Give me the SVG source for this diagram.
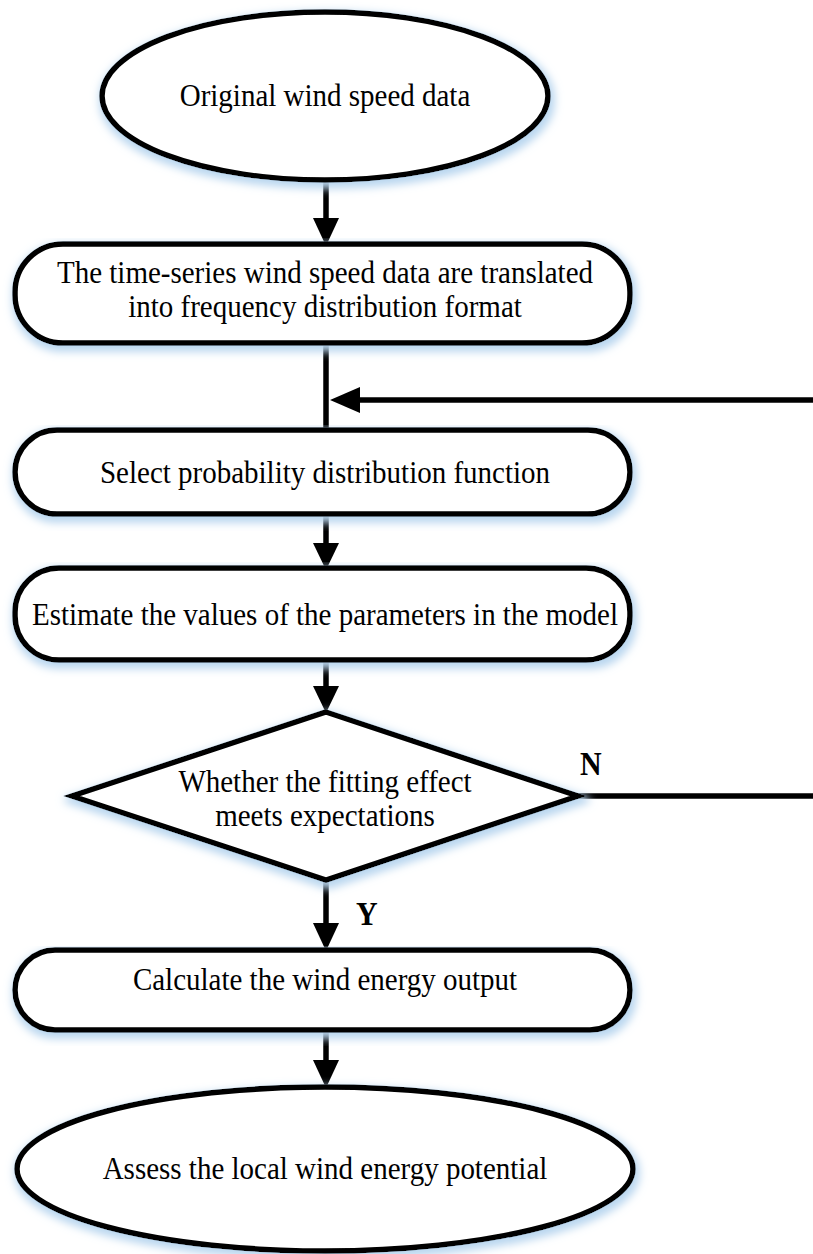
<svg xmlns="http://www.w3.org/2000/svg" width="813" height="1254" viewBox="0 0 813 1254">
<defs>
<style>
.shape{fill:#fff;stroke:#000;stroke-width:5.5;filter:url(#glow)}
.t{font-family:"Liberation Serif","Times New Roman",serif;font-size:29px;fill:#000;text-anchor:middle}
.lbl{font-family:"Liberation Serif","Times New Roman",serif;font-size:30px;font-weight:bold;fill:#000}
.c{stroke:#000;stroke-width:5.5;fill:none}
</style>
<filter id="glow" x="-10%" y="-10%" width="120%" height="130%">
<feMorphology in="SourceAlpha" operator="dilate" radius="2" result="d"/>
<feGaussianBlur in="d" stdDeviation="4" result="b"/>
<feOffset in="b" dx="2" dy="4" result="o"/>
<feFlood flood-color="#b9d6ef"/>
<feComposite in2="o" operator="in" result="s"/>
<feMerge><feMergeNode in="s"/><feMergeNode in="SourceGraphic"/></feMerge>
</filter>
</defs>
<g id="connectors">
<path class="c" d="M326,181 V220"/><path d="M313,218 L339,218 L326,246 Z"/>
<path class="c" d="M326,343 V430"/>
<path class="c" d="M813,400 H355"/><path d="M360,387 L360,413 L330,400 Z"/>
<path class="c" d="M326,514 V545"/><path d="M313,543 L339,543 L326,570 Z"/>
<path class="c" d="M326,660 V688"/><path d="M313,686 L339,686 L326,713 Z"/>
<path class="c" d="M578,796 H813"/>
<path class="c" d="M326,880 V925"/><path d="M313,923 L339,923 L326,951 Z"/>
<path class="c" d="M326,1030 V1062"/><path d="M313,1060 L339,1060 L326,1088 Z"/>
<text class="lbl" transform="translate(580,775) scale(1,1.1)">N</text>
<text class="lbl" transform="translate(356,925) scale(1,1.1)">Y</text>
</g>
<g id="n1"><ellipse class="shape" cx="325" cy="96" rx="223" ry="84"/><text class="t" transform="translate(325,106) scale(1,1.1)">Original wind speed data</text></g>
<g id="n2"><rect class="shape" x="15" y="244" width="615" height="99" rx="48"/><text class="t" transform="translate(325,283) scale(1,1.1)">The time-series wind speed data are translated</text><text class="t" transform="translate(325,317) scale(1,1.1)">into frequency distribution format</text></g>
<g id="n3"><rect class="shape" x="15" y="430" width="615" height="84" rx="42"/><text class="t" transform="translate(325,483) scale(1,1.1)">Select probability distribution function</text></g>
<g id="n4"><rect class="shape" x="15" y="568" width="615" height="92" rx="44"/><text class="t" transform="translate(325,625) scale(1,1.1)">Estimate the values of the parameters in the model</text></g>
<g id="n5"><polygon class="shape" points="326,712 578,796 326,880 72,796"/><text class="t" transform="translate(325,792) scale(1,1.1)">Whether the fitting effect</text><text class="t" transform="translate(325,826) scale(1,1.1)">meets expectations</text></g>
<g id="n6"><rect class="shape" x="15" y="950" width="615" height="80" rx="40"/><text class="t" transform="translate(325,990) scale(1,1.1)">Calculate the wind energy output</text></g>
<g id="n7"><ellipse class="shape" cx="325" cy="1169" rx="308" ry="82"/><text class="t" transform="translate(325,1179) scale(1,1.1)">Assess the local wind energy potential</text></g>
</svg>
